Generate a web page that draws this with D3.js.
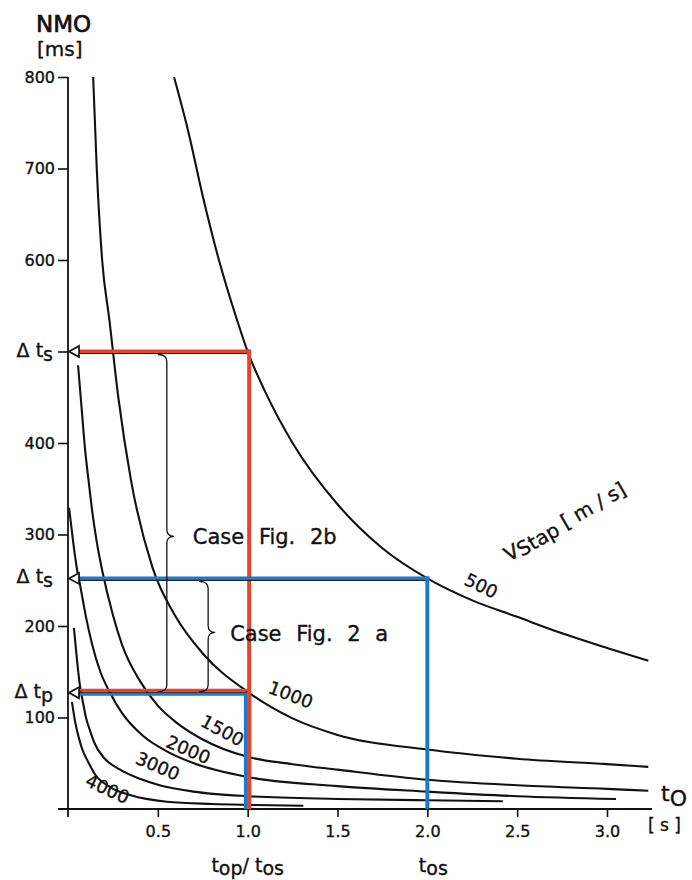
<!DOCTYPE html>
<html>
<head>
<meta charset="utf-8">
<script src="https://cdn.jsdelivr.net/npm/d3@7"></script>
<style>
  html, body { margin: 0; padding: 0; background: #fff; }
  svg { display: block; font-family: "DejaVu Sans", "Noto Sans", sans-serif; }
  .lbl { fill: #111; stroke: #111; stroke-width: 0.35px; }
</style>
</head>
<body>
<svg id="chart" width="692" height="880"></svg>
<script>
// Stacking velocities of the NMO curves (m/s)
const velocities = [500, 1000, 1500, 2000, 3000, 4000];

// NMO correction (ms) against zero-offset time t0 (s), one table per velocity
const nmo500 = [[0.59, 800], [0.67, 740], [0.75, 670], [0.84, 600], [0.94, 535], [1.0, 500],
  [1.1, 455], [1.25, 400], [1.5, 333], [1.75, 285], [2.0, 252], [2.25, 228], [2.5, 210],
  [2.75, 192], [3.0, 176], [3.23, 162]];
const nmo1000 = [[0.14, 800], [0.16, 700], [0.19, 600], [0.23, 535], [0.28, 450], [0.35, 360],
  [0.47, 264], [0.6, 210], [0.75, 170], [1.0, 128], [1.25, 99], [1.5, 81], [2.0, 65],
  [2.5, 55], [3.0, 49], [3.23, 46]];
const nmo1500 = [[0.056, 485], [0.075, 440], [0.095, 393], [0.115, 358], [0.133, 328],
  [0.16, 292], [0.19, 261], [0.25, 212], [0.3, 180], [0.4, 140], [0.5, 113], [0.6, 95],
  [0.75, 76], [1.0, 57], [1.25, 49], [1.5, 43], [2.0, 32], [2.5, 26], [3.0, 22], [3.23, 20]];
const nmo2000 = [[0.006, 329], [0.03, 290], [0.05, 262], [0.067, 245], [0.1, 210],
  [0.133, 181], [0.18, 150], [0.234, 127], [0.3, 105], [0.417, 80], [0.55, 63], [0.7, 50],
  [1.0, 35], [1.5, 25], [2.0, 19], [2.5, 14], [3.05, 11]];
const nmo3000 = [[0.033, 198], [0.05, 163], [0.067, 134], [0.083, 117], [0.1, 100],
  [0.122, 86], [0.15, 71], [0.2, 56], [0.29, 43], [0.4, 33], [0.51, 26], [0.7, 19],
  [1.0, 14], [1.5, 11], [2.0, 9.5], [2.42, 8.5]];
const nmo4000 = [[0.022, 117], [0.04, 95], [0.06, 78], [0.08, 65], [0.106, 54], [0.15, 38],
  [0.234, 24], [0.35, 15], [0.55, 8], [0.8, 5.5], [1.0, 4.5], [1.31, 3.5]];
const curves = [nmo500, nmo1000, nmo1500, nmo2000, nmo3000, nmo4000];

// Where each velocity label sits: [t0 (s), NMO (ms), rotation (deg)]
const labelAnchors = [[2.3, 244, 26], [1.24, 125, 21], [0.86, 86, 28], [0.67, 65, 23],
  [0.5, 47, 23], [0.22, 22, 25]];

// Axis ticks
const yTicks = [100, 200, 300, 400, 500, 600, 700, 800];
const yTickLabels = ["100", "200", "300", "400", "", "600", "700", "800"];
const xTicks = [0.5, 1.0, 1.5, 2.0, 2.5, 3.0];
const xTickLabels = ["0.5", "1.0", "1.5", "2.0", "2.5", "3.0"];

// Read-off values of the two worked cases
const dtS2b = 500;   // Δts, case 2b (ms)
const dtS2a = 252;   // Δts, case 2a (ms)
const dtP = 127;     // Δtp (ms)
const tRatio = 1.0;  // top / tos
const tOs = 2.0;     // tos (s)
const brace2b = [0.55, 298]; // brace position t0 and tip level
const brace2a = [0.78, 193];

const RED = "#e6432b";
const BLUE = "#1f78c8";
const INK = "#111";

const svg = d3.select("#chart");
const x = d3.scaleLinear().domain([0, 3]).range([68, 607]);
const y = d3.scaleLinear().domain([0, 800]).range([809, 77]);

// ---- axes ----
const yAxis = svg.append("g")
  .attr("transform", `translate(${x(0)},0)`)
  .call(d3.axisLeft(y).tickValues(yTicks).tickSize(10).tickPadding(3)
    .tickFormat((d, i) => yTickLabels[i]));
yAxis.select(".domain").remove();
yAxis.selectAll(".tick line").attr("stroke", INK).attr("stroke-width", 1.6);
yAxis.selectAll(".tick text").attr("class", "lbl").style("font-size", "16px")
  .style("font-family", "DejaVu Sans, sans-serif");

const xAxis = svg.append("g")
  .attr("transform", `translate(0,${y(0)})`)
  .call(d3.axisBottom(x).tickValues(xTicks).tickSize(8).tickPadding(9)
    .tickFormat((d, i) => xTickLabels[i]));
xAxis.select(".domain").remove();
xAxis.selectAll(".tick line").attr("stroke", INK).attr("stroke-width", 1.6);
xAxis.selectAll(".tick text").attr("class", "lbl").style("font-size", "16px")
  .style("font-family", "DejaVu Sans, sans-serif");

// axis lines, each running a little past the origin
svg.append("line").attr("x1", x(0)).attr("x2", x(0))
  .attr("y1", y(800)).attr("y2", y(0) + 8)
  .attr("stroke", INK).attr("stroke-width", 1.8);
svg.append("line").attr("x1", x(0) - 10).attr("x2", x(3.25))
  .attr("y1", y(0)).attr("y2", y(0))
  .attr("stroke", INK).attr("stroke-width", 1.8);

// ---- NMO curves ----
const line = d3.line().x(d => x(d[0])).y(d => y(d[1])).curve(d3.curveMonotoneX);
svg.append("g").selectAll("path").data(curves).join("path")
  .attr("d", line)
  .attr("fill", "none")
  .attr("stroke", INK)
  .attr("stroke-width", 2.1);

// velocity labels along the curves
svg.append("g").selectAll("text").data(velocities).join("text")
  .attr("class", "lbl")
  .attr("transform", (v, i) => {
    const a = labelAnchors[i];
    return `translate(${x(a[0])},${y(a[1])}) rotate(${a[2]})`;
  })
  .attr("text-anchor", "middle")
  .attr("dominant-baseline", "central")
  .style("font-size", "18px")
  .text(v => v);

// ---- case construction lines ----
const arrowBase = x(0) + 11;
const g = svg.append("g");

// case 2b: Δts at top/tos = 1
g.append("line").attr("x1", arrowBase).attr("x2", x(tRatio) + 3)
  .attr("y1", y(dtS2b)).attr("y2", y(dtS2b))
  .attr("stroke", RED).attr("stroke-width", 4);
g.append("line").attr("x1", arrowBase).attr("x2", x(tRatio))
  .attr("y1", y(dtS2b) + 2).attr("y2", y(dtS2b) + 2)
  .attr("stroke", INK).attr("stroke-width", 1);
g.append("line").attr("x1", x(tRatio) + 1.5).attr("x2", x(tRatio) + 1.5)
  .attr("y1", y(dtS2b) - 2).attr("y2", y(0))
  .attr("stroke", RED).attr("stroke-width", 4);

// case 2a: Δts at tos = 2
g.append("line").attr("x1", arrowBase).attr("x2", x(tOs) + 2)
  .attr("y1", y(dtS2a)).attr("y2", y(dtS2a))
  .attr("stroke", BLUE).attr("stroke-width", 4);
g.append("line").attr("x1", arrowBase).attr("x2", x(tOs))
  .attr("y1", y(dtS2a) + 2).attr("y2", y(dtS2a) + 2)
  .attr("stroke", INK).attr("stroke-width", 1);
g.append("line").attr("x1", x(tOs)).attr("x2", x(tOs))
  .attr("y1", y(dtS2a) - 2).attr("y2", y(0))
  .attr("stroke", BLUE).attr("stroke-width", 4);

// Δtp, shared by both cases
g.append("line").attr("x1", arrowBase).attr("x2", x(tRatio))
  .attr("y1", y(dtP) - 2.5).attr("y2", y(dtP) - 2.5)
  .attr("stroke", RED).attr("stroke-width", 3);
g.append("line").attr("x1", arrowBase).attr("x2", x(tRatio) - 1)
  .attr("y1", y(dtP) + 1.5).attr("y2", y(dtP) + 1.5)
  .attr("stroke", BLUE).attr("stroke-width", 3);
g.append("line").attr("x1", arrowBase).attr("x2", x(tRatio))
  .attr("y1", y(dtP) - 0.5).attr("y2", y(dtP) - 0.5)
  .attr("stroke", INK).attr("stroke-width", 1);
g.append("line").attr("x1", x(tRatio) - 2).attr("x2", x(tRatio) - 2)
  .attr("y1", y(dtP)).attr("y2", y(0))
  .attr("stroke", BLUE).attr("stroke-width", 3.5);
// red vertical drawn again over the blue one
g.append("line").attr("x1", x(tRatio) + 1.5).attr("x2", x(tRatio) + 1.5)
  .attr("y1", y(dtP) - 4).attr("y2", y(0))
  .attr("stroke", RED).attr("stroke-width", 4);

// open arrowheads on the NMO axis
[dtS2b, dtS2a, dtP].forEach(v => {
  const cy = y(v);
  g.append("path")
    .attr("d", `M${x(0) + 1},${cy} L${arrowBase},${cy - 5.5} L${arrowBase},${cy + 5.5} Z`)
    .attr("fill", "#fff").attr("stroke", INK).attr("stroke-width", 1.7);
});

// ---- braces ----
function brace(t, vTop, vTip, vBot) {
  const bx = x(t), y1 = y(vTop) + 3, ym = y(vTip), y2 = y(vBot) - 1, h = 7;
  return `M${bx - 9},${y1} Q${bx},${y1} ${bx},${y1 + h} L${bx},${ym - h}` +
    ` Q${bx},${ym} ${bx + 7},${ym} Q${bx},${ym} ${bx},${ym + h}` +
    ` L${bx},${y2 - h} Q${bx},${y2} ${bx - 9},${y2}`;
}
g.append("path").attr("d", brace(brace2b[0], dtS2b, brace2b[1], dtP))
  .attr("fill", "none").attr("stroke", INK).attr("stroke-width", 1.3);
g.append("path").attr("d", brace(brace2a[0], dtS2a, brace2a[1], dtP))
  .attr("fill", "none").attr("stroke", INK).attr("stroke-width", 1.3);

const txt = svg.append("g");
txt.append("text").attr("class", "lbl").attr("x", x(brace2b[0]) + 26).attr("y", y(brace2b[1]) + 8)
  .style("font-size", "21px").style("word-spacing", "8px").text("Case Fig. 2b");
txt.append("text").attr("class", "lbl").attr("x", x(brace2a[0]) + 22).attr("y", y(brace2a[1]) + 9)
  .style("font-size", "21px").style("word-spacing", "8px").text("Case Fig. 2 a");

// ---- axis titles and side labels ----
txt.append("text").attr("class", "lbl").attr("x", 36).attr("y", 32)
  .style("font-size", "23px").style("stroke-width", "0.7px").text("NMO");
txt.append("text").attr("class", "lbl").attr("x", 37).attr("y", 56)
  .style("font-size", "20px").text("[ms]");

function deltaLabel(v, sub) {
  const t = txt.append("text").attr("class", "lbl").attr("x", 53).attr("y", y(v) + 5)
    .attr("text-anchor", "end").style("font-size", "19px");
  t.append("tspan").text("Δ t");
  t.append("tspan").attr("dy", 4).text(sub);
}
deltaLabel(dtS2b, "s");
deltaLabel(dtS2a, "s");
deltaLabel(dtP, "p");

const vLab = txt.append("text").attr("class", "lbl")
  .attr("transform", "translate(509,562) rotate(-30)")
  .style("font-size", "20px");
vLab.append("tspan").text("V");
vLab.append("tspan").attr("dy", 2).text("Stap");
vLab.append("tspan").attr("dy", -2).text(" [ m / s]");

const t0 = txt.append("text").attr("class", "lbl").attr("x", 661).attr("y", 801)
  .style("font-size", "22px");
t0.append("tspan").text("t");
t0.append("tspan").attr("dy", 5).style("font-size", "22px").text("O");
txt.append("text").attr("class", "lbl").attr("x", 648).attr("y", 831)
  .style("font-size", "17px").text("[ s ]");

const xl1 = txt.append("text").attr("class", "lbl").attr("x", x(tRatio)).attr("y", 872)
  .attr("text-anchor", "middle").style("font-size", "19px");
xl1.append("tspan").text("t");
xl1.append("tspan").attr("dy", 3).text("op");
xl1.append("tspan").attr("dy", -3).text("/ t");
xl1.append("tspan").attr("dy", 3).text("os");

const xl2 = txt.append("text").attr("class", "lbl").attr("x", x(tOs) + 6).attr("y", 872)
  .attr("text-anchor", "middle").style("font-size", "19px");
xl2.append("tspan").text("t");
xl2.append("tspan").attr("dy", 3).text("os");
</script>
</body>
</html>
